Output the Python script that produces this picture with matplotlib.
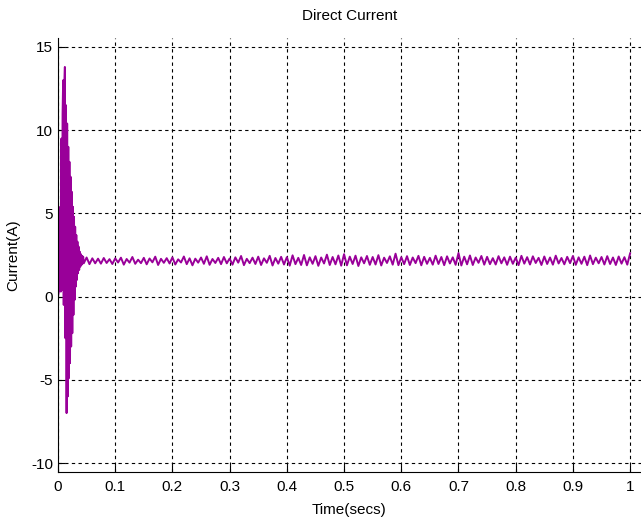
import numpy as np
import matplotlib.pyplot as plt

# start-up transient, sampled every 1 ms from t = 0
trans_step = 0.001
trans_current = [0.0, 0.2, 0.4, 3.0, 5.4, 0.3, 9.5, 0.4, 11.0, 13.0,
                 -0.5, 12.5, 13.8, -2.5, 11.5, -7.0, 10.4, -6.0, 9.0, -4.9,
                 8.1, -4.0, 7.2, -3.0, 6.3, -2.2, 5.4, -1.1, 4.8, -0.2,
                 4.2, 0.6, 3.7, 1.0, 3.3, 1.4, 3.0, 1.6, 2.7, 1.8,
                 2.55, 1.9, 2.45, 2.0, 2.4, 2.0]

# steady state, sampled every 5 ms from t = 0.05
steady_start = 0.05
steady_step = 0.005
steady_current = [
    2.35, 1.95, 2.30, 2.00, 2.28, 1.98, 2.32, 2.02, 2.25, 1.96,
    2.30, 2.05, 2.34, 1.92, 2.26, 2.04, 2.38, 1.97, 2.22, 2.01,
    2.33, 1.94, 2.29, 2.06, 2.40, 1.90, 2.27, 2.03, 2.31, 1.99,
    2.36, 1.93, 2.24, 2.05, 2.41, 1.95, 2.30, 1.88, 2.28, 2.04,
    2.35, 1.97, 2.42, 1.91, 2.26, 2.02, 2.33, 1.95, 2.38, 2.00,
    2.29, 1.92, 2.36, 2.04, 2.44, 1.89, 2.27, 2.01, 2.34, 1.96,
    2.40, 1.90, 2.30, 2.03, 2.45, 1.87, 2.32, 1.98, 2.39, 1.93,
    2.37, 1.86, 2.48, 1.95, 2.33, 1.90, 2.50, 1.88, 2.36, 1.97,
    2.43, 1.85, 2.35, 1.99, 2.52, 1.90, 2.38, 1.94, 2.47, 1.86,
    2.55, 1.88, 2.40, 1.96, 2.46, 1.84, 2.36, 2.00, 2.44, 1.91,
    2.38, 1.93, 2.49, 1.87, 2.34, 2.02, 2.42, 1.92, 2.58, 1.89,
    2.37, 1.95, 2.43, 1.90, 2.35, 2.01, 2.45, 1.88, 2.39, 1.97,
    2.33, 1.92, 2.46, 1.96, 2.38, 1.89, 2.42, 1.99, 2.36, 1.91,
    2.62, 1.87, 2.40, 1.94, 2.47, 1.90, 2.35, 2.03, 2.44, 1.92,
    2.39, 1.95, 2.31, 1.93, 2.43, 2.00, 2.36, 1.91, 2.40, 1.97,
    2.34, 1.89, 2.45, 1.98, 2.37, 1.93, 2.42, 2.02, 2.33, 1.90,
    2.41, 1.96, 2.35, 1.92, 2.46, 1.99, 2.32, 1.94, 2.39, 2.01,
    2.44, 1.91, 2.36, 1.97, 2.40, 1.89, 2.47, 1.95, 2.34, 2.00,
    2.38, 1.93, 2.43, 1.96, 2.35, 1.90, 2.41, 1.98, 2.37, 1.92,
    2.60]

xticks = [0, 0.1, 0.2, 0.3, 0.4, 0.5, 0.6, 0.7, 0.8, 0.9, 1]
xtick_labels = ["0", "0.1", "0.2", "0.3", "0.4", "0.5", "0.6", "0.7", "0.8", "0.9", "1"]
yticks = [-10, -5, 0, 5, 10, 15]

t_trans = np.arange(len(trans_current)) * trans_step
t_steady = steady_start + np.arange(len(steady_current)) * steady_step
t = np.concatenate([t_trans, t_steady])
current = np.concatenate([trans_current, steady_current])

plt.rcParams['font.family'] = ['Liberation Sans', 'DejaVu Sans']
plt.rcParams['axes.unicode_minus'] = False

fig = plt.figure(figsize=(6.41, 5.21), dpi=100)
ax = fig.add_axes([58 / 641, 1 - 472 / 521, 583 / 641, 434 / 521])

ax.plot(t, current, color='#990099', linewidth=1.4)

ax.set_xlim(0, 1.019)
ax.set_ylim(-10.54, 15.54)
ax.set_xticks(xticks)
ax.set_xticklabels(xtick_labels)
ax.set_yticks(yticks)
ax.grid(True, color='black', linestyle=(0, (3, 3)), linewidth=0.8)
ax.tick_params(direction='in', length=5, labelsize=11, colors='black')
ax.tick_params(axis='x', pad=6)
for side in ['top', 'right']:
    ax.spines[side].set_visible(False)

ax.set_title("Direct Current", fontsize=11, pad=13)
ax.set_xlabel("Time(secs)", fontsize=11, labelpad=6)
ax.set_ylabel("Current(A)", fontsize=11, labelpad=8)

fig.savefig("out.png", dpi=100)
